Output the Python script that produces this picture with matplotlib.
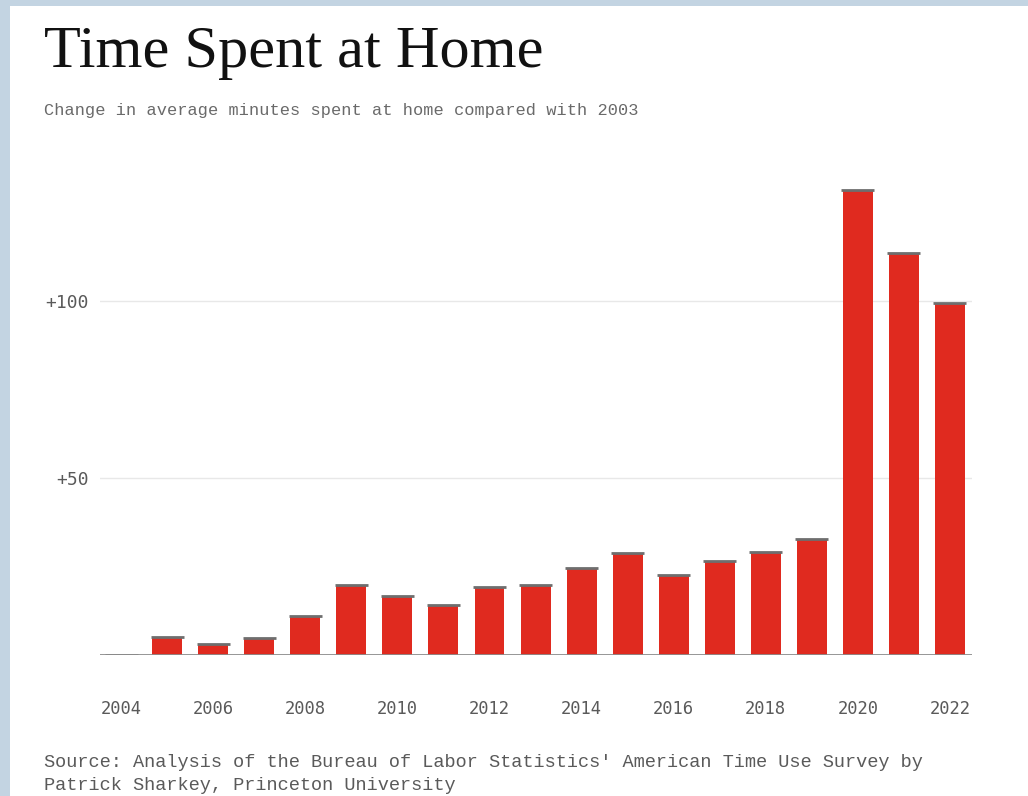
import matplotlib
matplotlib.use("Agg")
import matplotlib.pyplot as plt
from matplotlib.ticker import FuncFormatter, FixedLocator
from matplotlib.patches import Rectangle

# Change in average minutes spent at home vs. 2003
years = list(range(2004, 2023))
minutes = [0, 5.0, 3.0, 4.8, 11.0, 19.7, 16.6, 14.1, 19.0, 19.7,
           24.5, 28.6, 22.5, 26.5, 28.9, 32.6, 131.4, 113.7, 99.4]
xtick_years = [2004, 2006, 2008, 2010, 2012, 2014, 2016, 2018, 2020, 2022]
ytick_values = [50, 100]

title = "Time Spent at Home"
subtitle = "Change in average minutes spent at home compared with 2003"
source = ("Source: Analysis of the Bureau of Labor Statistics' American Time Use Survey by\n"
          "Patrick Sharkey, Princeton University")

W, H = 1028, 796
fig = plt.figure(figsize=(W / 100, H / 100), dpi=100, facecolor="white")

# soft blue frame along the top and left edges
frame = "#c3d4e2"
fig.patches.append(Rectangle((0, 0), 10 / W, 1, transform=fig.transFigure,
                             facecolor=frame, edgecolor="none", zorder=0))
fig.patches.append(Rectangle((0, 1 - 6 / H), 1, 6 / H, transform=fig.transFigure,
                             facecolor=frame, edgecolor="none", zorder=0))

ax_left, ax_right = 100 / W, 972 / W
ax_bottom, ax_top = 1 - 654.5 / H, 1 - 177.3 / H
ax = fig.add_axes([ax_left, ax_bottom, ax_right - ax_left, ax_top - ax_bottom])
ax.set_facecolor("none")

bar_w = 0.65
cap_w = 0.72
red = "#e02a1f"
ax.bar(years, minutes, width=bar_w, color=red, edgecolor="none", zorder=2)
ax.hlines(minutes, [y - cap_w / 2 for y in years], [y + cap_w / 2 for y in years],
          colors="#6e6e6e", linewidth=2.0, zorder=3)
ax.axhline(0, color="#8c8c8c", linewidth=2, zorder=3)

ax.set_xlim(2003.54, 2022.48)
ax.set_ylim(0, 135)

ax.yaxis.set_major_locator(FixedLocator(ytick_values))
ax.yaxis.set_major_formatter(FuncFormatter(lambda v, p: f"+{int(v)}"))
ax.set_xticks(xtick_years)
ax.set_xticklabels([str(y) for y in xtick_years])

ax.grid(axis="y", color="#e8e8e8", linewidth=1, zorder=0)
ax.grid(axis="x", visible=False)
for s in ax.spines.values():
    s.set_visible(False)

ax.tick_params(axis="both", length=0, labelsize=12.3, labelcolor="#5a5a5a")
ax.tick_params(axis="y", pad=8, labelsize=13)
ax.tick_params(axis="x", pad=33)
for lab in ax.get_xticklabels() + ax.get_yticklabels():
    lab.set_fontfamily("DejaVu Sans Mono")

fig.text(44 / W, 1 - 67 / H, title, fontsize=43.5, family="Liberation Serif",
         color="#111111", ha="left", va="baseline")
fig.text(44 / W, 1 - 111 / H, subtitle, fontsize=12.25, family="Liberation Mono",
         color="#6a6a6a", ha="left", va="center")
fig.text(44 / W, 1 - 754 / H, source, fontsize=13.4, family="Liberation Mono",
         color="#5a5a5a", ha="left", va="top", linespacing=1.45)

fig.savefig("out.png", dpi=100, facecolor="white")
